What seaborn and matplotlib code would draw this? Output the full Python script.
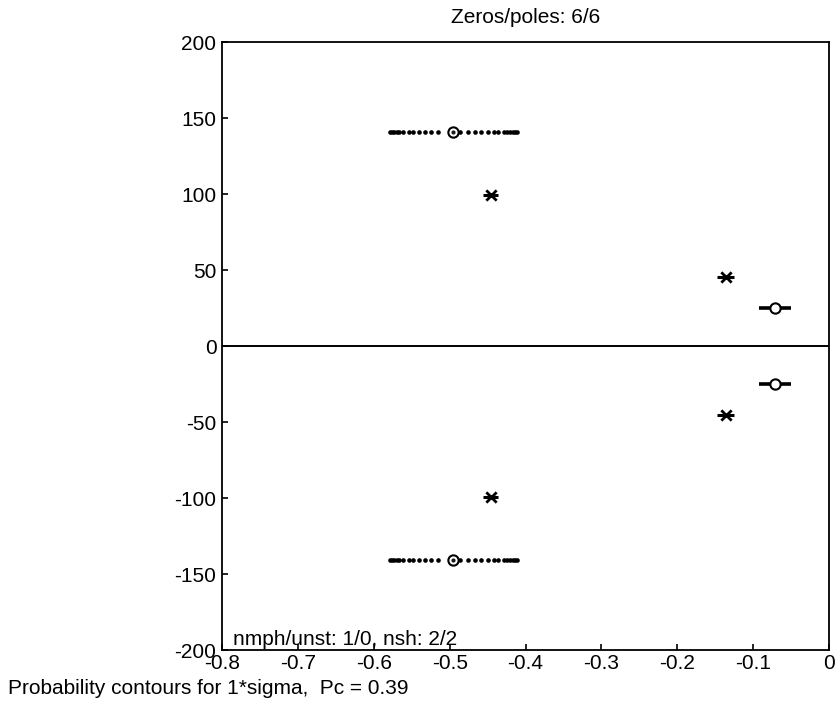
import numpy as np
import pandas as pd
import matplotlib
matplotlib.use("Agg")
import matplotlib.pyplot as plt
import seaborn as sns

# zeros (upper half plane; conjugates are mirrored)
zero_re = [-0.495, -0.071]
zero_im = [140.5, 25.0]
# poles (upper half plane)
pole_re = [-0.446, -0.136]
pole_im = [99.3, 45.4]
# half-width of the short bar drawn through each pole
pole_bar = [0.0095, 0.011]

contour_re = [-0.579, -0.576, -0.573, -0.570, -0.567, -0.561, -0.554, -0.548,
              -0.540, -0.532, -0.524, -0.515, -0.495, -0.486, -0.476, -0.467,
              -0.459, -0.450, -0.442, -0.436, -0.429, -0.424, -0.420, -0.417,
              -0.414, -0.411]
# contour extent of the second zero (drawn as a solid bar)
contour2_re = [-0.092, -0.050]

title = "Zeros/poles: 6/6"
inner_note = "nmph/unst: 1/0, nsh: 2/2"
footer = "Probability contours for 1*sigma,  Pc = 0.39"

xticks = [-0.8, -0.7, -0.6, -0.5, -0.4, -0.3, -0.2, -0.1, 0]
yticks = [-200, -150, -100, -50, 0, 50, 100, 150, 200]

sns.set_theme(style="white")
plt.rcParams['font.family'] = ['Liberation Sans', 'DejaVu Sans']
plt.rcParams['text.color'] = 'black'

fig = plt.figure(figsize=(8.4, 7.04), dpi=100)
ax = fig.add_axes([0.2643, 0.0767, 0.7226, 0.8636])

# contour dots, mirrored to the lower half plane
dots = pd.DataFrame({
    're': contour_re + contour_re,
    'im': [zero_im[0]] * len(contour_re) + [-zero_im[0]] * len(contour_re),
})
sns.scatterplot(data=dots, x='re', y='im', ax=ax, color='black', s=11,
                linewidth=0, marker='o', legend=False)

for sgn in (1, -1):
    ax.plot(contour2_re, [sgn * zero_im[1]] * 2, color='black', lw=2.6,
            solid_capstyle='butt')
    for re, im, hw in zip(pole_re, pole_im, pole_bar):
        ax.plot([re - hw, re + hw], [sgn * im] * 2, color='black', lw=2.2,
                solid_capstyle='butt')

zeros = pd.DataFrame({'re': zero_re + zero_re,
                      'im': zero_im + [-v for v in zero_im]})
poles = pd.DataFrame({'re': pole_re + pole_re,
                      'im': pole_im + [-v for v in pole_im]})
sns.scatterplot(data=zeros, x='re', y='im', ax=ax, marker='o', s=55,
                facecolor='white', edgecolor='black', linewidth=1.5,
                legend=False, zorder=3)
# centre dot of the big zero (it sits on its contour)
ax.plot([zero_re[0]] * 2, [zero_im[0], -zero_im[0]], 'k.', ms=4, zorder=4)
sns.scatterplot(data=poles, x='re', y='im', ax=ax, marker='x', s=55,
                color='black', linewidth=2.0, legend=False, zorder=3)

ax.axhline(0, color='black', lw=1.4)

ax.set_xlim(-0.8, 0)
ax.set_ylim(-200, 200)
ax.set_xticks(xticks)
ax.set_xticklabels(['-0.8', '-0.7', '-0.6', '-0.5', '-0.4', '-0.3', '-0.2', '-0.1', '0'])
ax.set_yticks(yticks)
ax.set_yticklabels([str(v) for v in yticks])
ax.tick_params(direction='in', length=4, width=1.2, labelsize=15, pad=4,
               colors='black', labelcolor='black', bottom=True, left=True)
ax.tick_params(axis='x', pad=3)
ax.set_xlabel('')
ax.set_ylabel('')
for sp in ax.spines.values():
    sp.set_color('black')
    sp.set_linewidth(1.3)

ax.set_title(title, fontsize=15, pad=14, color='black')
ax.text(0.018, 0.008, inner_note, transform=ax.transAxes, fontsize=15,
        va='baseline', ha='left', color='black')
fig.text(0.0095, 0.0227, footer, fontsize=15, va='center', ha='left',
         color='black')

fig.savefig('out.png', dpi=100)
